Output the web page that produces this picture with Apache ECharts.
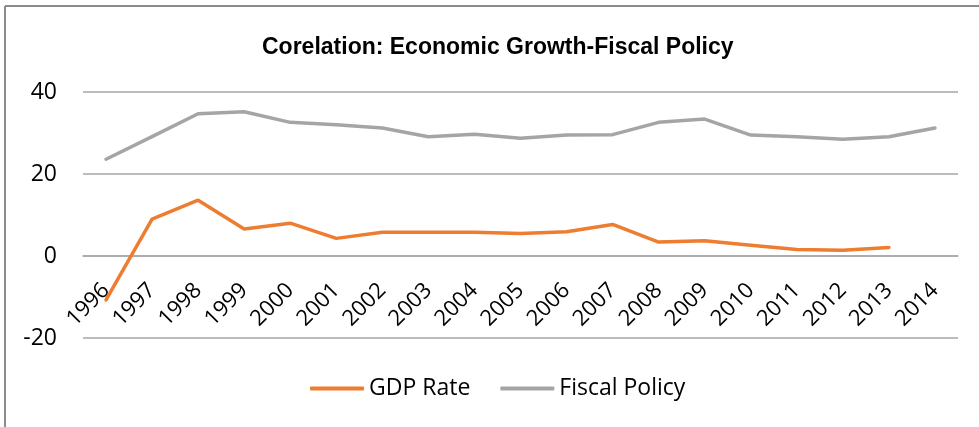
<!DOCTYPE html>
<html>
<head>
<meta charset="utf-8">
<script src="https://cdn.jsdelivr.net/npm/echarts@6/dist/echarts.min.js"></script>
<style>
  html, body { margin: 0; padding: 0; background: #fff; }
  #main { width: 979px; height: 427px; }
</style>
</head>
<body>
<div id="main"></div>
<script>
// data
var years = ['1996', '1997', '1998', '1999', '2000', '2001', '2002', '2003', '2004', '2005',
             '2006', '2007', '2008', '2009', '2010', '2011', '2012', '2013', '2014'];
var gdpRate = [-10.7, 9.0, 13.6, 6.6, 8.0, 4.3, 5.8, 5.8, 5.8, 5.5,
               5.9, 7.7, 3.4, 3.7, 2.6, 1.6, 1.4, 2.1, null];
var fiscalPolicy = [23.6, 29.1, 34.7, 35.2, 32.6, 32.0, 31.2, 29.1, 29.7, 28.7,
                    29.5, 29.6, 32.6, 33.4, 29.5, 29.1, 28.5, 29.1, 31.2];
var yTicks = [-20, 0, 20, 40];

var labelFont = '"Open Sans", "Liberation Sans", sans-serif';

var gridTop = 92, gridBottom = 89;
var plotH = 427 - gridTop - gridBottom;
var yMin = yTicks[0], yMax = yTicks[yTicks.length - 1];
// category axis sits on the zero line, like the excel chart
var zeroOffset = -Math.round((0 - yMin) / (yMax - yMin) * plotH);

var chart = echarts.init(document.getElementById('main'));

var option = {
    animation: false,
    backgroundColor: '#fff',
    title: {
        text: 'Corelation: Economic Growth-Fiscal Policy',
        left: 257,
        top: 31,
        textStyle: {
            fontFamily: '"Liberation Sans Narrow", "Liberation Sans", sans-serif',
            fontWeight: 'bold',
            fontSize: 23,
            color: '#000'
        }
    },
    legend: {
        bottom: 22,
        left: 305,
        itemWidth: 54,
        itemHeight: 4,
        itemGap: 30,
        icon: 'roundRect',
        textStyle: { fontFamily: labelFont, fontSize: 23, color: '#000' },
        data: ['GDP Rate', 'Fiscal Policy']
    },
    grid: {
        left: 83,
        right: 21,
        top: gridTop,
        bottom: gridBottom
    },
    xAxis: {
        type: 'category',
        data: years,
        boundaryGap: true,
        position: 'bottom',
        offset: zeroOffset,
        axisLine: { onZero: false, lineStyle: { color: '#a6a6a6', width: 1.5 } },
        axisTick: { show: false },
        axisLabel: {
            rotate: 45,
            interval: 0,
            margin: 31,
            fontFamily: labelFont,
            fontSize: 22,
            color: '#000'
        }
    },
    yAxis: {
        type: 'value',
        min: yMin,
        max: yMax,
        interval: 20,
        axisLine: { show: false },
        axisTick: { show: false },
        axisLabel: {
            margin: 26,
            fontFamily: labelFont,
            fontSize: 23,
            color: '#000'
        },
        splitLine: { lineStyle: { color: '#a6a6a6', width: 1.5 } }
    },
    series: [
        {
            name: 'GDP Rate',
            type: 'line',
            data: gdpRate,
            symbol: 'none',
            color: '#ed7d31',
            lineStyle: { width: 3.5, cap: 'round', join: 'round' }
        },
        {
            name: 'Fiscal Policy',
            type: 'line',
            data: fiscalPolicy,
            symbol: 'none',
            color: '#a5a5a5',
            lineStyle: { width: 3.5, cap: 'round', join: 'round' }
        }
    ],
    // chart frame: only top and left edges show
    graphic: [
        { type: 'line', shape: { x1: 5, y1: 6, x2: 979, y2: 6 }, style: { stroke: '#8c8c8c', lineWidth: 2 } },
        { type: 'line', shape: { x1: 5, y1: 6, x2: 5, y2: 427 }, style: { stroke: '#8c8c8c', lineWidth: 2 } }
    ]
};

chart.setOption(option);
</script>
</body>
</html>
